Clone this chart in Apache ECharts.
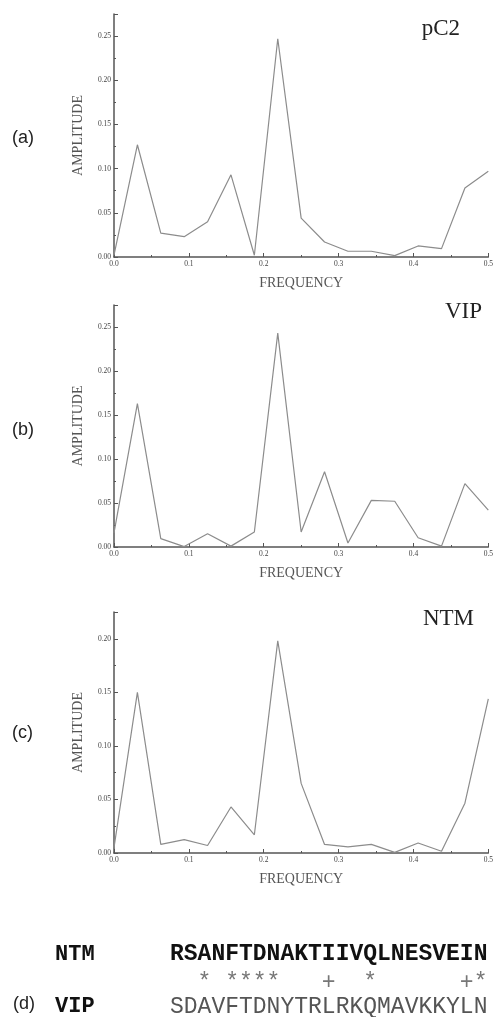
<!DOCTYPE html>
<html>
<head>
<meta charset="utf-8">
<script src="https://cdn.jsdelivr.net/npm/echarts@6/dist/echarts.min.js"></script>
<style>
  html, body { margin: 0; padding: 0; background: #fff; }
  #chart { width: 496px; height: 1017px; }
</style>
</head>
<body>
<div id="chart"></div>
<script>
// frecuencias comunes a los tres espectros (0 .. 0.5, 17 puntos)
const frequency = [0, 0.03125, 0.0625, 0.09375, 0.125, 0.15625, 0.1875, 0.21875, 0.25,
  0.28125, 0.3125, 0.34375, 0.375, 0.40625, 0.4375, 0.46875, 0.5];

const ampPC2 = [0.002, 0.127, 0.027, 0.023, 0.040, 0.093, 0.002, 0.247, 0.044,
  0.017, 0.0065, 0.0065, 0.0015, 0.0125, 0.0095, 0.078, 0.097];
const ampVIP = [0.016, 0.163, 0.0095, 0.0005, 0.015, 0.001, 0.017, 0.243, 0.017,
  0.0855, 0.0045, 0.053, 0.052, 0.0105, 0.001, 0.072, 0.042];
const ampNTM = [0.005, 0.150, 0.008, 0.0125, 0.007, 0.043, 0.017, 0.198, 0.065,
  0.008, 0.0058, 0.008, 0.0006, 0.0093, 0.0016, 0.0465, 0.144];

const panelNames = ['pC2', 'VIP', 'NTM'];
const panelLetters = ['(a)', '(b)', '(c)'];
const yMax = [0.275, 0.275, 0.225];
const xTicks = ['0.0', '0.1', '0.2', '0.3', '0.4', '0.5'];

// alineamiento (d)
const seqNTM = 'RSANFTDNAKTIIVQLNESVEIN';
const seqMatch = '  * ****   +  *      +*';
const seqVIP = 'SDAVFTDNYTRLRKQMAVKKYLN';

const chart = echarts.init(document.getElementById('chart'));

const grids = [
  { left: 114, top: 14, width: 376, height: 243 },
  { left: 114, top: 305, width: 376, height: 242 },
  { left: 114, top: 612, width: 376, height: 241 }
];
const series = [ampPC2, ampVIP, ampNTM];

const axisColor = '#555';
const serif = '"Liberation Serif", "DejaVu Serif", serif';

const xAxis = grids.map((g, i) => ({
  gridIndex: i,
  type: 'value',
  min: 0,
  max: 0.5,
  interval: 0.1,
  name: 'FREQUENCY',
  nameLocation: 'middle',
  nameGap: 19,
  nameTextStyle: { fontFamily: serif, fontSize: 14, color: '#555' },
  axisLine: { lineStyle: { color: axisColor, width: 1.5 } },
  axisTick: { inside: true, length: 4, lineStyle: { color: axisColor } },
  minorTick: { show: true, splitNumber: 2, length: 2, lineStyle: { color: axisColor } },
  splitLine: { show: false },
  axisLabel: {
    margin: 3,
    fontSize: 7.5,
    fontFamily: serif,
    color: '#444',
    formatter: v => xTicks[Math.round(v * 10)] || ''
  }
}));

const yAxis = grids.map((g, i) => ({
  gridIndex: i,
  type: 'value',
  min: 0,
  max: yMax[i],
  interval: 0.05,
  name: 'AMPLITUDE',
  nameLocation: 'middle',
  nameRotate: 90,
  nameGap: 29,
  nameTextStyle: { fontFamily: serif, fontSize: 14, color: '#555' },
  axisLine: { show: true, lineStyle: { color: axisColor, width: 1.5 } },
  axisTick: { show: true, inside: true, length: 4, lineStyle: { color: axisColor } },
  minorTick: { show: true, splitNumber: 2, length: 2, lineStyle: { color: axisColor } },
  splitLine: { show: false },
  axisLabel: {
    margin: 3,
    fontSize: 7.5,
    fontFamily: serif,
    color: '#444',
    formatter: v => {
      const k = v / 0.05;
      return Math.abs(k - Math.round(k)) < 1e-6 ? v.toFixed(2) : '';
    }
  }
}));

const lineSeries = series.map((amp, i) => ({
  type: 'line',
  xAxisIndex: i,
  yAxisIndex: i,
  data: frequency.map((f, j) => [f, amp[j]]),
  showSymbol: false,
  lineStyle: { color: '#8c8c8c', width: 1.2 },
  animation: false
}));

const graphic = [];
panelNames.forEach((name, i) => {
  const g = grids[i];
  graphic.push({
    type: 'text',
    right: [36, 14, 22][i],
    top: g.top + [3, -5, -5][i],
    style: { text: name, font: '23px ' + serif, fill: '#222' }
  });
  graphic.push({
    type: 'text',
    left: 12,
    top: g.top + g.height / 2 - 12 + [6, 7, 4][i],
    style: { text: panelLetters[i], font: '18px "Liberation Sans", Arial, sans-serif', fill: '#222' }
  });
});

const mono = '"Liberation Mono", "DejaVu Sans Mono", monospace';
graphic.push(
  { type: 'text', left: 55, top: 943, style: { text: 'NTM', font: 'bold 22px ' + mono, fill: '#111' } },
  { type: 'text', left: 170, top: 943, style: { text: seqNTM, font: 'bold 23px ' + mono, fill: '#111' } },
  { type: 'text', left: 170, top: 971, style: { text: seqMatch, font: '23px ' + mono, fill: '#777' } },
  { type: 'text', left: 13, top: 995, style: { text: '(d)', font: '18px "Liberation Sans", Arial, sans-serif', fill: '#222' } },
  { type: 'text', left: 55, top: 995, style: { text: 'VIP', font: 'bold 22px ' + mono, fill: '#111' } },
  { type: 'text', left: 170, top: 995, style: { text: seqVIP, font: '23px ' + mono, fill: '#555' } }
);

chart.setOption({
  backgroundColor: '#fff',
  animation: false,
  grid: grids,
  xAxis: xAxis,
  yAxis: yAxis,
  series: lineSeries,
  graphic: graphic
});
</script>
</body>
</html>
